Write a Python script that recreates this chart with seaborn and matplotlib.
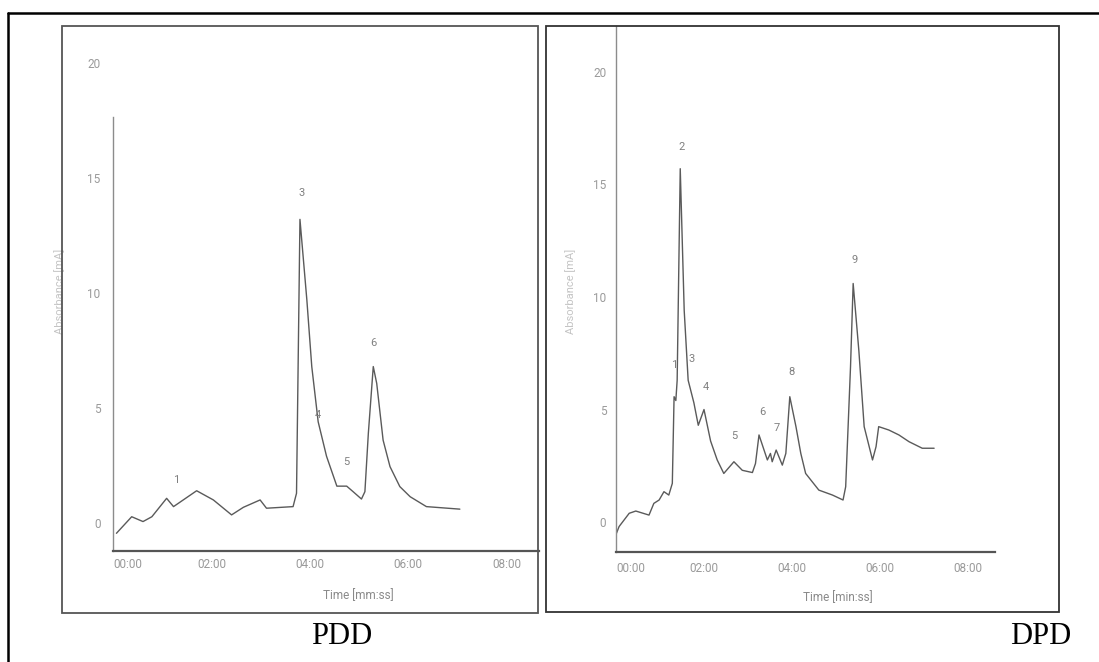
import matplotlib
matplotlib.use("Agg")
import matplotlib.pyplot as plt
import seaborn as sns
import pandas as pd
from matplotlib.lines import Line2D
from matplotlib.patches import Rectangle

sns.set_theme(style="white")
plt.rcParams["font.family"] = ["Roboto", "DejaVu Sans"]

# PDD chromatogram (time in min, absorbance in mA)
pdd_time = [0.07, 0.38, 0.61, 0.79, 1.09, 1.23, 1.70, 2.04, 2.41, 2.65, 2.99, 3.12,
            3.66, 3.73, 3.80, 3.94, 4.04, 4.17, 4.34, 4.55, 4.75, 4.88, 5.05, 5.12,
            5.19, 5.29, 5.36, 5.49, 5.63, 5.83, 6.04, 6.37, 7.05]
pdd_abs = [-0.45, 0.27, 0.06, 0.27, 1.07, 0.71, 1.40, 1.00, 0.35, 0.68, 1.00, 0.64,
           0.71, 1.29, 13.2, 9.7, 6.8, 4.4, 2.9, 1.6, 1.6, 1.36, 1.04, 1.36,
           3.9, 6.8, 6.07, 3.6, 2.45, 1.58, 1.14, 0.71, 0.60]
pdd_peak_names = ["1", "3", "4", "5", "6"]
pdd_peak_time = [1.28, 3.84, 4.17, 4.74, 5.30]
pdd_peak_abs = [1.87, 14.35, 4.7, 2.65, 7.83]

# DPD chromatogram
dpd_time = [0.01, 0.07, 0.30, 0.45, 0.75, 0.86, 0.98, 1.09, 1.20, 1.28, 1.32, 1.36,
            1.39, 1.46, 1.55, 1.64, 1.77, 1.87, 2.00, 2.15, 2.30, 2.45, 2.68, 2.87,
            3.10, 3.17, 3.25, 3.44, 3.51, 3.55, 3.64, 3.78, 3.86, 3.95, 4.09, 4.20,
            4.31, 4.61, 4.92, 5.16, 5.22, 5.33, 5.39, 5.52, 5.64, 5.83, 5.91, 5.97,
            6.20, 6.43, 6.66, 6.96, 7.23]
dpd_abs = [-0.5, -0.2, 0.39, 0.49, 0.31, 0.83, 0.98, 1.35, 1.2, 1.72, 5.57, 5.4,
           6.3, 15.7, 9.4, 6.3, 5.3, 4.3, 5.0, 3.6, 2.76, 2.16, 2.68, 2.3,
           2.2, 2.6, 3.87, 2.76, 3.05, 2.68, 3.2, 2.53, 3.05, 5.57, 4.24, 3.05,
           2.16, 1.42, 1.2, 0.98, 1.57, 6.9, 10.6, 7.6, 4.24, 2.76, 3.35, 4.24,
           4.09, 3.87, 3.57, 3.28, 3.28]
dpd_peak_names = ["1", "2", "3", "4", "5", "6", "7", "8", "9"]
dpd_peak_time = [1.33, 1.49, 1.73, 2.04, 2.70, 3.32, 3.66, 3.99, 5.43]
dpd_peak_abs = [6.98, 16.68, 7.23, 6.0, 3.82, 4.89, 4.18, 6.67, 11.64]

time_ticks = [0, 2, 4, 6, 8]
time_labels = ["00:00", "02:00", "04:00", "06:00", "08:00"]
abs_ticks = [0, 5, 10, 15, 20]
abs_labels = ["0", "5", "10", "15", "20"]

W, H = 1099, 662
fig = plt.figure(figsize=(W / 100, H / 100), dpi=100)


def px_rect(x0, y0, x1, y1):
    return [x0 / W, 1 - y1 / H, (x1 - x0) / W, (y1 - y0) / H]


def draw_panel(ax, t, a, names, pt, pa, xlab, xlab_x, ylab_xy, ypad, xpad, spine_top):
    df = pd.DataFrame({"t": t, "a": a})
    sns.lineplot(data=df, x="t", y="a", ax=ax, color="#5a5a5a", linewidth=1.0,
                 estimator=None, sort=False)
    for n, x, y in zip(names, pt, pa):
        ax.text(x, y, n, fontsize=8, color="#808080", ha="center", va="center")
    for s in ["top", "right"]:
        ax.spines[s].set_visible(False)
    ax.spines["left"].set_color("#8c8c8c")
    ax.spines["left"].set_linewidth(1.0)
    ax.spines["bottom"].set_color("#555555")
    ax.spines["bottom"].set_linewidth(1.6)
    if spine_top is not None:
        ax.spines["left"].set_bounds(ax.get_ylim()[0], spine_top)
    ax.set_xticks(time_ticks)
    ax.set_xticklabels(time_labels)
    ax.xaxis.get_majorticklabels()[0].set_horizontalalignment("left")
    ax.set_yticks(abs_ticks)
    ax.set_yticklabels(abs_labels)
    ax.tick_params(axis="x", length=0, pad=xpad, labelsize=8.5, labelcolor="#9a9a9a")
    ax.tick_params(axis="y", length=0, pad=ypad, labelsize=8.5, labelcolor="#9a9a9a")
    ax.set_xlabel(xlab, fontsize=8.5, color="#8a8a8a")
    ax.xaxis.set_label_coords(xlab_x, -0.075)
    ax.set_ylabel("Absorbance [mA]", fontsize=8, color="#c4c4c4")
    ax.yaxis.set_label_coords(*ylab_xy)
    ax.grid(False)
    ax.set_facecolor("none")


# left panel: PDD
ax1 = fig.add_axes(px_rect(113, 40, 539, 551))
ax1.set_xlim(0, 426 / 49.2)
ax1.set_ylim(-1.22, 21.0)
draw_panel(ax1, pdd_time, pdd_abs, pdd_peak_names, pdd_peak_time, pdd_peak_abs,
           "Time [mm:ss]", 0.575, (-0.113, 0.509), 9, 5, 17.65)

# right panel: DPD
ax2 = fig.add_axes(px_rect(616, 26, 995, 552))
ax2.set_xlim(0, 379 / 44.0)
ax2.set_ylim(-1.33, 22.04)
draw_panel(ax2, dpd_time, dpd_abs, dpd_peak_names, dpd_peak_time, dpd_peak_abs,
           "Time [min:ss]", 0.585, (-0.106, 0.496), 7, 7, None)

# panel frames and outer table border
fig.patches.append(Rectangle((62 / W, 1 - 613 / H), (538 - 62) / W, (613 - 26) / H,
                             transform=fig.transFigure, fill=False,
                             edgecolor="#555555", linewidth=1.3))
fig.patches.append(Rectangle((546 / W, 1 - 612 / H), (1059 - 546) / W, (612 - 26) / H,
                             transform=fig.transFigure, fill=False,
                             edgecolor="#333333", linewidth=1.3))
fig.lines.append(Line2D([7.5 / W, 7.5 / W], [0, 1 - 12.7 / H],
                        transform=fig.transFigure, color="black", linewidth=1.8))
fig.lines.append(Line2D([7.5 / W, 1], [1 - 12.7 / H, 1 - 12.7 / H],
                        transform=fig.transFigure, color="black", linewidth=1.8))

fig.text(342 / W, 1 - 637 / H, "PDD", fontsize=22, family="Liberation Serif",
         ha="center", va="center", color="black")
fig.text(1041 / W, 1 - 637 / H, "DPD", fontsize=22, family="Liberation Serif",
         ha="center", va="center", color="black")

fig.savefig("out.png", dpi=100, facecolor="white")
